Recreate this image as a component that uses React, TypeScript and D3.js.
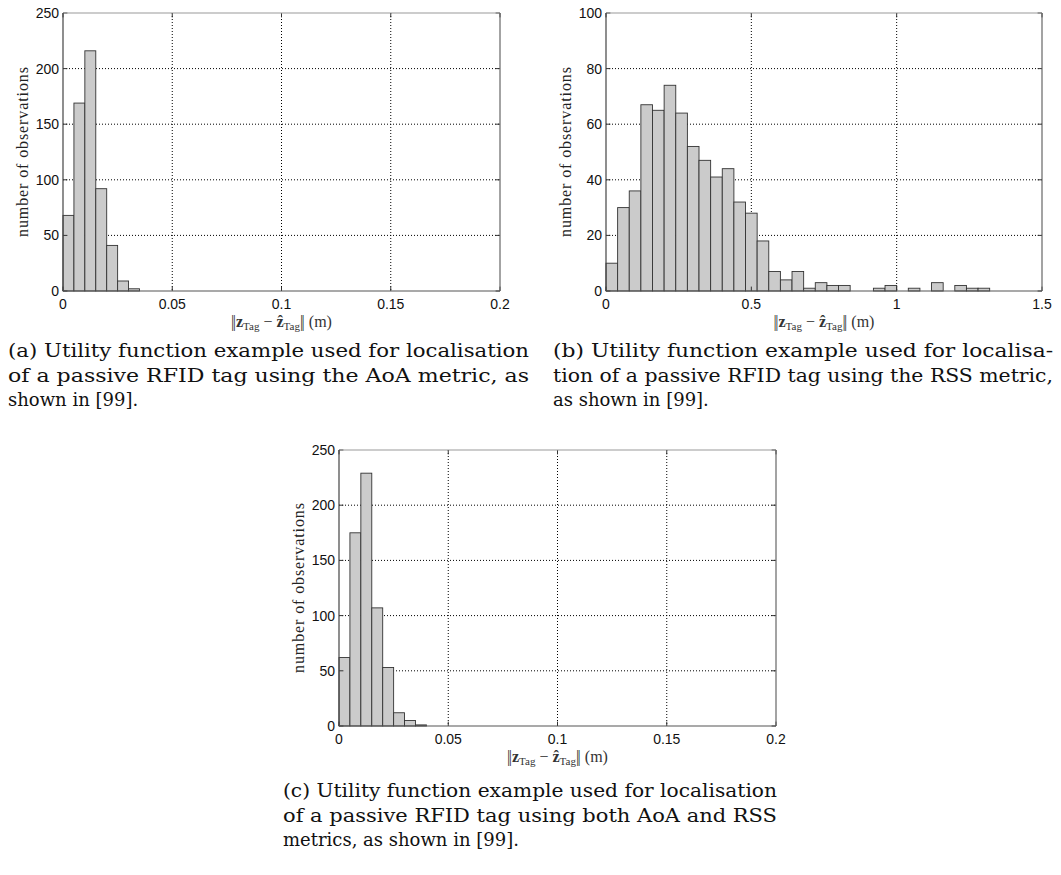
import React from "react";
import * as d3 from "d3";

// histogram counts
const aoaCounts = [68, 169, 216, 92, 41, 9, 2];
const aoaBinWidth = 0.005;

const rssCounts = [
  10, 30, 36, 67, 65, 74, 64, 52, 47, 41, 44, 32, 28, 18, 7, 4, 7, 1, 3, 2, 2,
  0, 0, 1, 2, 0, 1, 0, 3, 0, 2, 1, 1,
];
const rssBinWidth = 0.04;

const bothCounts = [62, 175, 229, 107, 53, 12, 5, 1];
const bothBinWidth = 0.005;

const smallXTicks = [0, 0.05, 0.1, 0.15, 0.2];
const smallXLabels = ["0", "0.05", "0.1", "0.15", "0.2"];
const largeXTicks = [0, 0.5, 1, 1.5];
const largeXLabels = ["0", "0.5", "1", "1.5"];
const countTicks250 = [0, 50, 100, 150, 200, 250];
const countTicks100 = [0, 20, 40, 60, 80, 100];

const yTitle = "number of observations";

const captionA = [
  "(a) Utility function example used for localisation",
  "of a passive RFID tag using the AoA metric, as",
  "shown in [99].",
];
const captionB = [
  "(b) Utility function example used for localisa-",
  "tion of a passive RFID tag using the RSS metric,",
  "as shown in [99].",
];
const captionC = [
  "(c) Utility function example used for localisation",
  "of a passive RFID tag using both AoA and RSS",
  "metrics, as shown in [99].",
];

const SANS = "'Liberation Sans', Arial, Helvetica, sans-serif";
const SERIF = "'Liberation Serif', 'Times New Roman', serif";
const BOOK = "'DejaVu Serif', serif";

type HistProps = {
  left: number;
  right: number;
  top: number;
  bottom: number;
  xTicks: number[];
  xLabels: string[];
  yTicks: number[];
  counts: number[];
  binWidth: number;
};

function Histogram(p: HistProps) {
  const x = d3
    .scaleLinear()
    .domain([0, p.xTicks[p.xTicks.length - 1]])
    .range([p.left, p.right]);
  const y = d3
    .scaleLinear()
    .domain([0, p.yTicks[p.yTicks.length - 1]])
    .range([p.bottom, p.top]);
  const tick = 4.4;
  const cx = (p.left + p.right) / 2;
  const cy = (p.top + p.bottom) / 2;

  return (
    <g>
      {/* dotted grid */}
      {p.xTicks.slice(1, -1).map((t) => (
        <line
          key={"gx" + t}
          x1={x(t)}
          x2={x(t)}
          y1={p.top}
          y2={p.bottom}
          stroke="#000"
          strokeWidth={1}
          strokeDasharray="1,2"
        />
      ))}
      {p.yTicks.slice(1, -1).map((t) => (
        <line
          key={"gy" + t}
          x1={p.left}
          x2={p.right}
          y1={y(t)}
          y2={y(t)}
          stroke="#000"
          strokeWidth={1}
          strokeDasharray="1,2"
        />
      ))}

      {/* bars */}
      {p.counts.map((c, i) =>
        c > 0 ? (
          <rect
            key={"b" + i}
            x={x(i * p.binWidth)}
            y={y(c)}
            width={x((i + 1) * p.binWidth) - x(i * p.binWidth)}
            height={y(0) - y(c)}
            fill="#cbcbcb"
            stroke="#333"
            strokeWidth={0.9}
          />
        ) : null
      )}

      {/* ticks inside, on all four sides */}
      {p.xTicks.map((t) => (
        <g key={"tx" + t}>
          <line x1={x(t)} x2={x(t)} y1={p.bottom} y2={p.bottom - tick} stroke="#333" />
          <line x1={x(t)} x2={x(t)} y1={p.top} y2={p.top + tick} stroke="#333" />
        </g>
      ))}
      {p.yTicks.map((t) => (
        <g key={"ty" + t}>
          <line x1={p.left} x2={p.left + tick} y1={y(t)} y2={y(t)} stroke="#333" />
          <line x1={p.right} x2={p.right - tick} y1={y(t)} y2={y(t)} stroke="#333" />
        </g>
      ))}

      {/* box */}
      <line x1={p.left} x2={p.right} y1={p.top} y2={p.top} stroke="#999" strokeWidth={1.2} />
      <line x1={p.right} x2={p.right} y1={p.top} y2={p.bottom} stroke="#666" strokeWidth={1.2} />
      <line x1={p.left} x2={p.left} y1={p.top} y2={p.bottom} stroke="#444" strokeWidth={1.2} />
      <line x1={p.left} x2={p.right} y1={p.bottom} y2={p.bottom} stroke="#555" strokeWidth={1.2} />

      {/* tick labels */}
      {p.xTicks.map((t, i) => (
        <text
          key={"lx" + t}
          x={x(t)}
          y={p.bottom + 18}
          textAnchor="middle"
          fontFamily={SANS}
          fontSize={14}
          fill="#111"
        >
          {p.xLabels[i]}
        </text>
      ))}
      {p.yTicks.map((t) => (
        <text
          key={"ly" + t}
          x={p.left - 4}
          y={y(t)}
          dy="0.36em"
          textAnchor="end"
          fontFamily={SANS}
          fontSize={14}
          fill="#111"
        >
          {t}
        </text>
      ))}

      {/* axis titles */}
      <text
        transform={`translate(${p.left - 35},${cy}) rotate(-90)`}
        textAnchor="middle"
        fontFamily={SERIF}
        fontSize={16}
        fill="#222"
        textLength={170}
        lengthAdjust="spacing"
      >
        {yTitle}
      </text>
      <text x={cx} y={p.bottom + 36} textAnchor="middle" fontFamily={SERIF} fontSize={16} fill="#333">
        <tspan letterSpacing={-1.5}>||</tspan>
        <tspan dx={1.5} fontWeight="bold">z</tspan>
        <tspan fontSize={11} dy={3}>Tag</tspan>
        <tspan dy={-3}> − </tspan>
        <tspan fontWeight="bold">ẑ</tspan>
        <tspan fontSize={11} dy={3}>Tag</tspan>
        <tspan dy={-3} letterSpacing={-1.5}>||</tspan>
        <tspan dx={1.5}>  (m)</tspan>
      </text>
    </g>
  );
}

function Caption({ lines, x, width, y }: { lines: string[]; x: number; width: number; y: number }) {
  return (
    <g>
      {lines.map((l, i) => (
        <text
          key={i}
          x={x}
          y={y + i * 24.5}
          fontFamily={BOOK}
          fontSize={18}
          fill="#111"
          textLength={i < lines.length - 1 ? width : undefined}
          lengthAdjust="spacingAndGlyphs"
        >
          {l}
        </text>
      ))}
    </g>
  );
}

export default function App() {
  return (
    <div style={{ position: "absolute", left: 0, top: 0 }}>
      <svg width={1061} height={875} style={{ display: "block", background: "#fff" }}>
        <Histogram
          left={63}
          right={500}
          top={13}
          bottom={291}
          xTicks={smallXTicks}
          xLabels={smallXLabels}
          yTicks={countTicks250}
          counts={aoaCounts}
          binWidth={aoaBinWidth}
        />
        <Histogram
          left={606}
          right={1042}
          top={13}
          bottom={291}
          xTicks={largeXTicks}
          xLabels={largeXLabels}
          yTicks={countTicks100}
          counts={rssCounts}
          binWidth={rssBinWidth}
        />
        <Histogram
          left={339}
          right={776}
          top={450}
          bottom={726}
          xTicks={smallXTicks}
          xLabels={smallXLabels}
          yTicks={countTicks250}
          counts={bothCounts}
          binWidth={bothBinWidth}
        />
        <Caption lines={captionA} x={8} width={521} y={357} />
        <Caption lines={captionB} x={553} width={500} y={357} />
        <Caption lines={captionC} x={283} width={494} y={797} />
      </svg>
    </div>
  );
}
